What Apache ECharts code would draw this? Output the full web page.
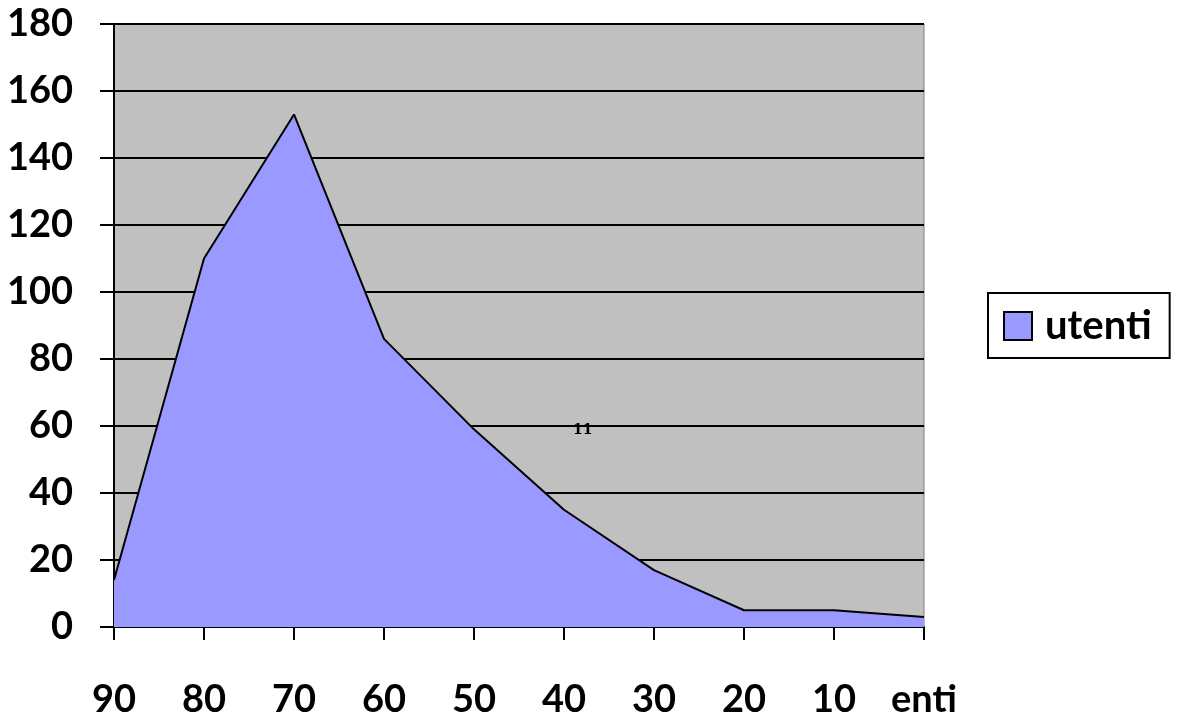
<!DOCTYPE html>
<html>
<head>
<meta charset="utf-8">
<script src="https://cdn.jsdelivr.net/npm/echarts@6/dist/echarts.min.js"></script>
<style>html,body{margin:0;padding:0;background:#fff}#c{width:1177px;height:720px}</style>
</head>
<body>
<div id="c"></div>
<script>
const categories = ['90','80','70','60','50','40','30','20','10','enti'];
const utenti = [14, 110, 153, 86, 59, 35, 17, 5, 5, 3];
const seriesName = 'utenti';
const yTicks = {min: 0, max: 180, interval: 20};

const chart = echarts.init(document.getElementById('c'));
const font = 'Lato, "Open Sans", sans-serif';
chart.setOption({
  animation: false,
  grid: {left: 114, right: 253, top: 24, bottom: 93, show: true, backgroundColor: '#c0c0c0', borderColor: '#808080', borderWidth: 1},
  legend: {
    data: [seriesName], left: 988, top: 293, orient: 'vertical',
    borderColor: '#000', borderWidth: 2, padding: [13, 18, 12, 15],
    icon: 'rect', itemWidth: 28, itemHeight: 28, itemGap: 0,
    itemStyle: {color: '#9999ff', borderColor: '#000', borderWidth: 2},
    textStyle: {fontFamily: font, fontWeight: 'bold', fontSize: 40, color: '#000', lineHeight: 40, padding: [0, 0, 0, 8]}
  },
  xAxis: {
    type: 'category', data: categories, boundaryGap: false,
    axisLine: {lineStyle: {color: '#000', width: 2}},
    axisTick: {show: true, length: 13, lineStyle: {color: '#000', width: 2}, alignWithLabel: true},
    axisLabel: {fontFamily: font, fontWeight: 'bold', fontSize: 38, color: '#000', margin: 54, interval: 0},
    splitLine: {show: false}
  },
  yAxis: {
    type: 'value', min: yTicks.min, max: yTicks.max, interval: yTicks.interval,
    axisLine: {show: true, lineStyle: {color: '#000', width: 2}},
    axisTick: {show: true, length: 14, lineStyle: {color: '#000', width: 2}},
    axisLabel: {fontFamily: font, fontWeight: 'bold', fontSize: 38, color: '#000', margin: 41},
    splitLine: {show: true, lineStyle: {color: '#000', width: 2}}
  },
  series: [{
    name: seriesName, type: 'line', data: utenti, symbol: 'none',
    itemStyle: {color: '#9999ff'},
    lineStyle: {color: '#000', width: 2},
    areaStyle: {color: '#9999ff', opacity: 1},
    z: 3
  }],
  graphic: [{
    type: 'text', left: 573, top: 423, z: 10,
    style: {text: '11', font: 'bold 14px "DejaVu Serif", serif', fill: '#000'}
  }]
});
</script>
</body>
</html>
